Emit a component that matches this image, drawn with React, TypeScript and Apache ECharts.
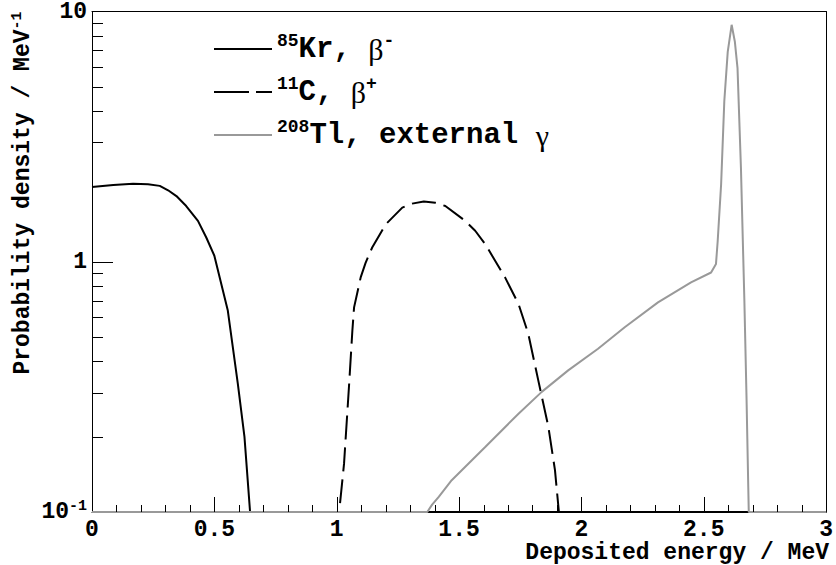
import React, { useEffect, useRef } from 'react';
import * as echarts from 'echarts';

// ---- Data ----
// 85Kr, beta-  (energy MeV, probability density /MeV); zero region clamped to axis minimum 0.1
const KR_ENERGY = [0, 0.087, 0.168, 0.229, 0.277, 0.311, 0.345, 0.385, 0.433, 0.467, 0.5, 0.555, 0.596, 0.623, 0.646, 3];
const KR_DENSITY = [1.99, 2.027, 2.05, 2.04, 2.01, 1.93, 1.83, 1.67, 1.457, 1.25, 1.057, 0.638, 0.325, 0.2, 0.1, 0.1];

// 11C, beta+
const C_ENERGY = [0, 1.01, 1.03, 1.05, 1.064, 1.071, 1.098, 1.118, 1.145, 1.2, 1.268, 1.308, 1.356, 1.403, 1.444, 1.525, 1.566, 1.607, 1.688, 1.743, 1.783, 1.824, 1.865, 1.892, 1.908, 3];
const C_DENSITY = [0.1, 0.1, 0.156, 0.315, 0.53, 0.657, 0.866, 0.99, 1.14, 1.41, 1.645, 1.707, 1.74, 1.72, 1.67, 1.457, 1.33, 1.176, 0.866, 0.678, 0.515, 0.335, 0.219, 0.147, 0.1, 0.1];

// 208Tl, external gamma
const TL_ENERGY = [0, 1.37, 1.39, 1.417, 1.47, 1.607, 1.743, 1.838, 1.946, 2.068, 2.177, 2.313, 2.448, 2.53, 2.55, 2.557, 2.571, 2.584, 2.598, 2.614, 2.627, 2.638, 2.652, 2.666, 2.675, 2.682, 2.684, 3];
const TL_DENSITY = [0.1, 0.1, 0.107, 0.115, 0.134, 0.182, 0.247, 0.302, 0.368, 0.449, 0.547, 0.688, 0.827, 0.906, 0.98, 1.21, 2.04, 4.38, 6.9, 8.85, 7.59, 5.94, 2.37, 0.7, 0.28, 0.125, 0.1, 0.1];

const SERIES_NAMES = ['85Kr, β-', '11C, β+', '208Tl, external γ'];
const LEGEND_LABELS = [
  '{s|85}{t|Kr, }{g|β}{s|-}',
  '{s|11}{t|C, }{g|β}{s|+}',
  '{s|208}{t|Tl, external }{g|γ}',
];

// axis ticks
const X_TICK_LABELS = ['0', '0.5', '1', '1.5', '2', '2.5', '3'];
const X_MAJOR_TICKS = [0.5, 1, 1.5, 2, 2.5];
const X_MINOR_TICKS = [0.1, 0.2, 0.3, 0.4, 0.6, 0.7, 0.8, 0.9, 1.1, 1.2, 1.3, 1.4, 1.6, 1.7, 1.8, 1.9, 2.1, 2.2, 2.3, 2.4, 2.6, 2.7, 2.8, 2.9];
const Y_TICK_LABELS = ['{t|10}{s|-1}', '{t|1}', '{t|10}'];
const Y_MAJOR_TICKS = [1];
const Y_MINOR_TICKS = [0.2, 0.3, 0.4, 0.5, 0.6, 0.7, 0.8, 0.9, 2, 3, 4, 5, 6, 7, 8, 9];

const X_TITLE = 'Deposited energy / MeV';
const Y_TITLE = '{t|Probability density / MeV}{s|-1}';

const MONO = "'Liberation Mono', 'DejaVu Sans Mono', monospace";
const SERIF = "'Liberation Serif', 'DejaVu Serif', serif";

// layout
const W = 836;
const H = 565;
const GRID = { left: 92, right: 5, top: 11, bottom: 53 };
const X_MIN = 0;
const X_MAX = 3;
const Y_MIN = 0.1;
const Y_MAX = 10;

function pairs(xs: number[], ys: number[]) {
  return xs.map((x, i) => [x, ys[i]]);
}

export default function App() {
  const ref = useRef<HTMLDivElement>(null);

  useEffect(() => {
    if (!ref.current) return;
    const chart = echarts.init(ref.current, undefined, { renderer: 'svg' });

    const tickRich = {
      t: { fontFamily: MONO, fontWeight: 'bold', fontSize: 23, color: '#000', lineHeight: 26, verticalAlign: 'middle' },
      s: { fontFamily: MONO, fontWeight: 'bold', fontSize: 15, color: '#000', lineHeight: 14, verticalAlign: 'top' },
    };
    const legendRich = {
      t: { fontFamily: MONO, fontWeight: 'bold', fontSize: 29, color: '#000', lineHeight: 34, verticalAlign: 'middle' },
      s: { fontFamily: MONO, fontWeight: 'bold', fontSize: 18, color: '#000', lineHeight: 18, verticalAlign: 'top' },
      g: { fontFamily: SERIF, fontWeight: 'normal', fontSize: 30, color: '#000', lineHeight: 34, verticalAlign: 'middle' },
    };

    const colors = ['#000000', '#000000', '#999999'];
    const dashes: any[] = ['solid', [24, 8], 'solid'];
    const legendDashes: any[] = ['solid', [35, 7], 'solid'];
    const datas = [pairs(KR_ENERGY, KR_DENSITY), pairs(C_ENERGY, C_DENSITY), pairs(TL_ENERGY, TL_DENSITY)];
    const legendTops = [32, 75, 118];

    const frameAxisLine = { show: true, onZero: false, lineStyle: { color: '#000', width: 1 } };

    const option: any = {
      animation: false,
      title: {
        text: X_TITLE,
        right: 7,
        top: 541,
        padding: 0,
        textStyle: { fontFamily: MONO, fontWeight: 'bold', fontSize: 23, color: '#000', lineHeight: 24 },
      },
      grid: { left: GRID.left, right: GRID.right, top: GRID.top, bottom: GRID.bottom, show: false },
      legend: SERIES_NAMES.map((name, i) => ({
        data: [name],
        left: 213,
        top: legendTops[i],
        orient: 'horizontal',
        padding: 0,
        itemGap: 0,
        itemWidth: 58,
        itemHeight: 2,
        selectedMode: false,
        itemStyle: { opacity: 0 },
        lineStyle: { color: colors[i], width: 2, type: legendDashes[i], opacity: 1 },
        formatter: () => LEGEND_LABELS[i],
        textStyle: {
          fontFamily: MONO,
          fontWeight: 'bold',
          fontSize: 29,
          color: '#000',
          rich: legendRich,
        },
      })),
      xAxis: [
        {
          type: 'value',
          min: X_MIN,
          max: X_MAX,
          interval: 0.5,
          axisLine: frameAxisLine,
          axisTick: { show: false },
          minorTick: { show: false },
          splitLine: { show: false },
          minorSplitLine: { show: false },
          axisLabel: {
            margin: 6,
            fontFamily: MONO,
            fontWeight: 'bold',
            fontSize: 23,
            color: '#000',
            formatter: (v: number) => X_TICK_LABELS[Math.round(v / 0.5)] ?? '',
          },
        },
        {
          type: 'value',
          position: 'top',
          min: X_MIN,
          max: X_MAX,
          interval: 0.5,
          axisLine: frameAxisLine,
          axisTick: { show: false },
          axisLabel: { show: false },
          splitLine: { show: false },
        },
      ],
      yAxis: [
        {
          type: 'log',
          logBase: 10,
          min: Y_MIN,
          max: Y_MAX,
          name: Y_TITLE,
          nameLocation: 'end',
          nameGap: 0,
          nameRotate: 90,
          nameMoveOverlap: false,
          nameTextStyle: {
            align: 'right',
            verticalAlign: 'bottom',
            padding: [0, 0, 56, 0],
            rich: tickRich,
          },
          axisLine: frameAxisLine,
          axisTick: { show: false },
          minorTick: { show: false },
          splitLine: { show: false },
          axisLabel: {
            margin: 5,
            formatter: (v: number) => Y_TICK_LABELS[Math.round(Math.log10(v)) + 1] ?? '',
            rich: tickRich,
          },
        },
        {
          type: 'log',
          logBase: 10,
          position: 'right',
          min: Y_MIN,
          max: Y_MAX,
          axisLine: frameAxisLine,
          axisTick: { show: false },
          axisLabel: { show: false },
          splitLine: { show: false },
        },
      ],
      series: SERIES_NAMES.map((name, i) => ({
        type: 'line',
        name,
        data: datas[i],
        symbol: 'none',
        showSymbol: false,
        clip: false,
        z: 2 + i,
        itemStyle: { color: colors[i] },
        lineStyle: { color: colors[i], width: 2, type: dashes[i] },
      })),
    };

    chart.setOption(option);

    // Inward ticks, positioned through the chart's own axis scales
    const finder = { xAxisIndex: 0, yAxisIndex: 0 };
    const ticks: any[] = [];
    const addXTick = (v: number, len: number) => {
      const p = chart.convertToPixel(finder, [v, Y_MIN]) as number[];
      if (!p) return;
      const x = Math.round(p[0]) + 0.5;
      ticks.push({
        type: 'polyline',
        silent: true,
        z: 50,
        shape: { points: [[x, p[1]], [x, p[1] - len]] },
        style: { stroke: '#000', lineWidth: 1, fill: null },
      });
    };
    const addYTick = (v: number, len: number) => {
      const p = chart.convertToPixel(finder, [X_MIN, v]) as number[];
      if (!p) return;
      const y = Math.round(p[1]) + 0.5;
      ticks.push({
        type: 'polyline',
        silent: true,
        z: 50,
        shape: { points: [[p[0], y], [p[0] + len, y]] },
        style: { stroke: '#000', lineWidth: 1, fill: null },
      });
    };
    X_MAJOR_TICKS.forEach((v) => addXTick(v, 15));
    X_MINOR_TICKS.forEach((v) => addXTick(v, 7));
    Y_MAJOR_TICKS.forEach((v) => addYTick(v, 21));
    Y_MINOR_TICKS.forEach((v) => addYTick(v, 11));

    chart.setOption({ graphic: ticks });

    return () => chart.dispose();
  }, []);

  return (
    <div
      ref={ref}
      style={{ position: 'fixed', left: 0, top: 0, width: W, height: H, background: '#fff' }}
    />
  );
}
